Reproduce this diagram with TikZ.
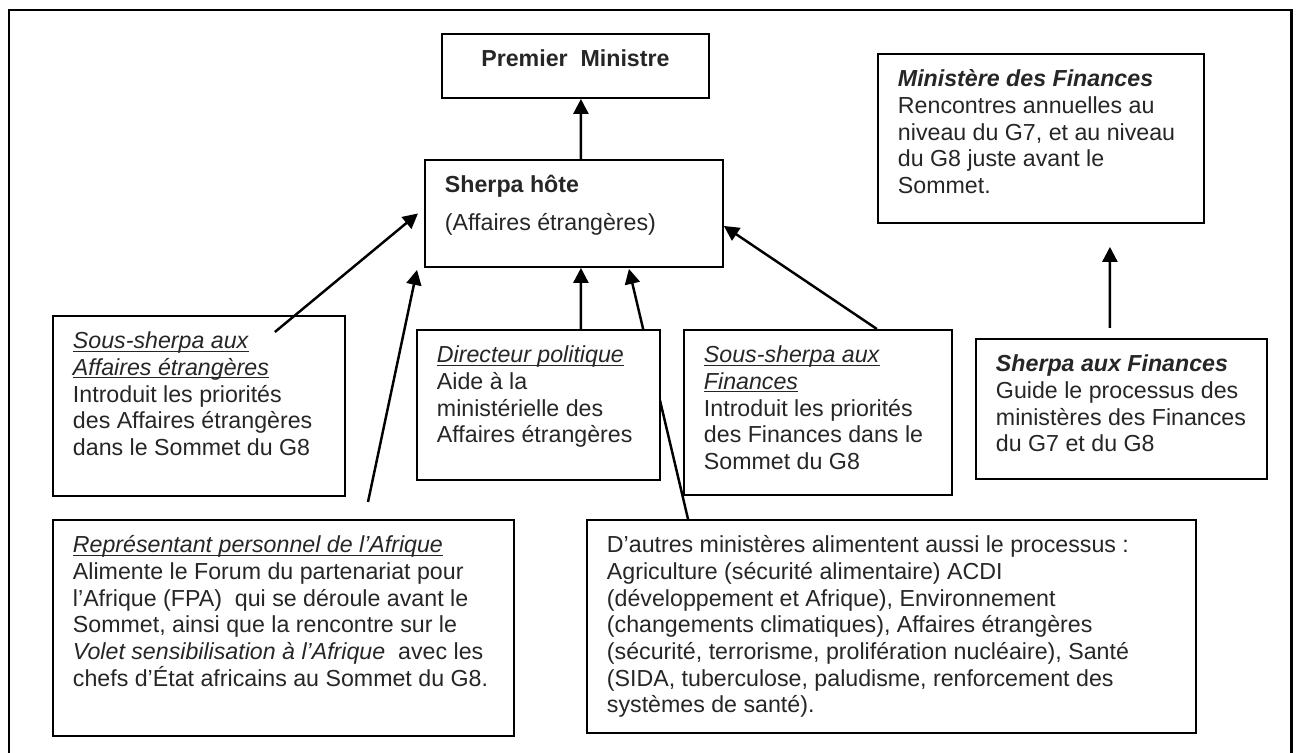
\documentclass[tikz,border=0pt]{standalone}
\usepackage{fontspec}
\setmainfont{Liberation Sans}
\usetikzlibrary{arrows.meta,backgrounds}

\newcommand{\paneltext}[3]{\parbox[c][#2][t]{#1}{\raggedright\strut#3}}
\newcommand{\ulined}[1]{\underline{\raisebox{0pt}[\height][0pt]{#1}}}

\begin{document}
\begin{tikzpicture}[x=0.02cm, y=-0.02cm,
  every node/.style={font=\fontsize{13.2}{15.2}\selectfont, text=black!85},
  panel/.style={draw, fill=white, line width=1.1pt, anchor=north west, inner xsep=0.4cm, inner ysep=0.28cm},
  arr/.style={line width=1.4pt, -{Triangle[length=0.3cm, width=0.3cm]}}]
  \useasboundingbox (0,0) rectangle (1296,753);
  \draw[line width=1.7pt] (9,780) -- (9,10) -- (1291,10) -- (1291,780);

  \node[panel] (pm) at (441,33) {\paneltext{4.54cm}{0.72cm}{\centering\textbf{Premier\ \ Ministre}}};
  \node[panel] (host) at (424,159) {\paneltext{5.16cm}{1.58cm}{\textbf{Sherpa hôte}\\[0.226cm](Affaires étrangères)}};
  \node[panel] (finmin) at (877,53) {\paneltext{5.72cm}{2.82cm}{\textbf{\textit{Ministère des Finances}}\\
    Rencontres annuelles au\\ niveau du G7, et au niveau\\ du G8 juste avant le\\ Sommet.}};
  \node[panel] (ssae) at (52,315) {\paneltext{5.04cm}{3.04cm}{\ulined{\textit{Sous-sherpa aux}}\\
    \ulined{\textit{Affaires étrangères}}\\ Introduit les priorités\\ des Affaires étrangères\\ dans le Sommet du G8}};
  \node[panel] (dirpol) at (416,329) {\paneltext{4.06cm}{2.44cm}{\ulined{\textit{Directeur politique}}\\
    Aide à la\\ ministérielle des\\ Affaires étrangères}};
  \node[panel] (ssfin) at (683,329) {\paneltext{4.56cm}{2.74cm}{\ulined{\textit{Sous-sherpa aux}}\\
    \ulined{\textit{Finances}}\\ Introduit les priorités\\ des Finances dans le\\ Sommet du G8}};
  \node[panel] (sherpafin) at (975,338) {\paneltext{5.02cm}{2.24cm}{\textbf{\textit{Sherpa aux Finances}}\\
    Guide le processus des\\ ministères des Finances\\ du G7 et du G8}};
  \node[panel] (repaf) at (52,519) {\paneltext{8.42cm}{3.76cm}{\ulined{\textit{Représentant personnel de l’Afrique}}\\
    Alimente le Forum du partenariat pour\\ l’Afrique (FPA)\ \ qui se déroule avant le\\
    Sommet, ainsi que la rencontre sur le\\ \textit{Volet sensibilisation à l’Afrique}\ \ avec les\\
    chefs d’État africains au Sommet du G8.}};
  \node[panel] (autres) at (586,519) {\paneltext{11.38cm}{3.70cm}{D’autres ministères alimentent aussi le processus :\\
    Agriculture (sécurité alimentaire) ACDI\\ (développement et Afrique), Environnement\\
    (changements climatiques), Affaires étrangères\\ (sécurité, terrorisme, prolifération nucléaire), Santé\\
    (SIDA, tuberculose, paludisme, renforcement des\\ systèmes de santé).}};

  \draw[arr] ([shift={(7,0)}]host.north) -- ([shift={(5.5,0)}]pm.south);
  \draw[arr] ([shift={(-71,17)}]ssae.north east) -- ([shift={(-6,0)}]host.west);
  \draw[arr] ([shift={(316,-17)}]repaf.north west) -- ([shift={(-7,2)}]host.south west);
  \draw[arr] ([shift={(42.5,0)}]dirpol.north) -- ([shift={(7,0)}]host.south);
  \draw[arr] ([shift={(-76,0)}]ssfin.north east) -- ([shift={(0,12.5)}]host.east);
  \draw[arr] ([shift={(-11.5,-10)}]sherpafin.north) -- ([shift={(69,23)}]finmin.south);
  \begin{pgfonlayer}{background}
    \draw[arr] ([shift={(102,0)}]autres.north west) -- ([shift={(55,1)}]host.south);
  \end{pgfonlayer}
\end{tikzpicture}
\end{document}
